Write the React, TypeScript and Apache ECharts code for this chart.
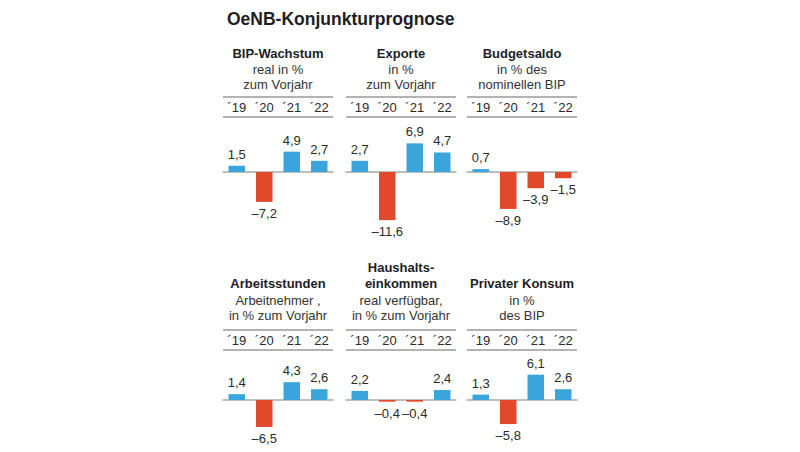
import React, { useEffect, useRef } from "react";
import * as echarts from "echarts";

const years = ["´19", "´20", "´21", "´22"];
const bipWachstum = [1.5, -7.2, 4.9, 2.7];
const exporte = [2.7, -11.6, 6.9, 4.7];
const budgetsaldo = [0.7, -8.9, -3.9, -1.5];
const arbeitsstunden = [1.4, -6.5, 4.3, 2.6];
const haushaltseinkommen = [2.2, -0.4, -0.4, 2.4];
const privaterKonsum = [1.3, -5.8, 6.1, 2.6];

const panelTitles = [
  ["BIP-Wachstum"],
  ["Exporte"],
  ["Budgetsaldo"],
  ["Arbeitsstunden"],
  ["Haushalts-", "einkommen"],
  ["Privater Konsum"],
];
const panelSubtitles = [
  ["real in %", "zum Vorjahr"],
  ["in %", "zum Vorjahr"],
  ["in % des", "nominellen BIP"],
  ["Arbeitnehmer ,", "in % zum Vorjahr"],
  ["real verfügbar,", "in % zum Vorjahr"],
  ["in %", "des BIP"],
];
const panelData = [bipWachstum, exporte, budgetsaldo, arbeitsstunden, haushaltseinkommen, privaterKonsum];

const BLUE = "#3aa5dc";
const RED = "#e2482a";
const FONT = "Liberation Sans, Arial, sans-serif";

export default function App() {
  const ref = useRef<HTMLDivElement>(null);
  useEffect(() => {
    if (!ref.current) return;
    const chart = echarts.init(ref.current, null, { renderer: "svg" });
    const S = 4.15;
    const lefts = [223, 346, 467];
    const W = 110;
    const rows = [
      { zero: 172, max: 10, min: -14, yearY: 107, rule1: 97, rule2: 117, titleY: 53, subY: [69, 84] },
      { zero: 400, max: 10, min: -10, yearY: 340, rule1: 330, rule2: 350, titleY: 283, subY: [300, 315] },
    ];
    const grid: any[] = [];
    const xAxis: any[] = [];
    const yAxis: any[] = [];
    const series: any[] = [];
    const graphic: any[] = [
      {
        type: "text",
        left: 227,
        top: 10,
        style: { text: "OeNB-Konjunkturprognose", font: `bold 17.5px ${FONT}`, fill: "#1e1e1e" },
      },
    ];
    panelData.forEach((data, i) => {
      const r = rows[Math.floor(i / 3)];
      const left = lefts[i % 3];
      const top = r.zero - r.max * S;
      const height = (r.max - r.min) * S;
      grid.push({ left, top, width: W, height });
      xAxis.push({
        type: "category",
        data: years,
        gridIndex: i,
        axisLine: { show: true, onZero: true, lineStyle: { color: "#a8a8a8", width: 1.5 } },
        axisTick: { show: false },
        axisLabel: { show: false },
      });
      xAxis.push({
        type: "category",
        data: years,
        gridIndex: i,
        position: "top",
        axisLine: { show: false, onZero: false },
        axisTick: { show: false },
        axisLabel: {
          show: true,
          margin: top - r.yearY,
          verticalAlign: "middle",
          fontFamily: FONT,
          fontSize: 13,
          color: "#2a2a2a",
        },
      });
      yAxis.push({
        type: "value",
        gridIndex: i,
        min: r.min,
        max: r.max,
        show: false,
        splitLine: { show: false },
      });
      series.push({
        type: "bar",
        xAxisIndex: 2 * i,
        yAxisIndex: i,
        barWidth: 16.5,
        data: data.map((v) => ({
          value: v,
          itemStyle: { color: v >= 0 ? BLUE : RED },
          label: { position: v >= 0 ? "top" : "bottom" },
        })),
        label: {
          show: true,
          distance: 5,
          fontFamily: FONT,
          fontSize: 13,
          color: "#2a2a2a",
          formatter: (p: any) => String(p.value).replace(".", ",").replace("-", "–"),
        },
      });
      const cx = left + W / 2;
      const titles = panelTitles[i];
      titles.forEach((t, k) => {
        const y = titles.length === 2 ? r.titleY - 16 + k * 16 : r.titleY;
        graphic.push({
          type: "text",
          x: cx,
          y,
          style: { text: t, font: `bold 13px ${FONT}`, fill: "#1e1e1e", align: "center", verticalAlign: "middle" },
        });
      });
      panelSubtitles[i].forEach((t, k) => {
        graphic.push({
          type: "text",
          x: cx,
          y: r.subY[k],
          style: { text: t, font: `13px ${FONT}`, fill: "#333", align: "center", verticalAlign: "middle" },
        });
      });
      [r.rule1, r.rule2].forEach((y) => {
        graphic.push({
          type: "line",
          shape: { x1: left, y1: y, x2: left + W, y2: y },
          style: { stroke: "#9a9a9a", lineWidth: 1.5 },
        });
      });
    });
    chart.setOption({
      animation: false,
      backgroundColor: "#ffffff",
      grid,
      xAxis,
      yAxis,
      series,
      graphic,
    });
    return () => chart.dispose();
  }, []);
  return <div ref={ref} style={{ position: "absolute", left: 0, top: 0, width: 800, height: 452 }} />;
}
